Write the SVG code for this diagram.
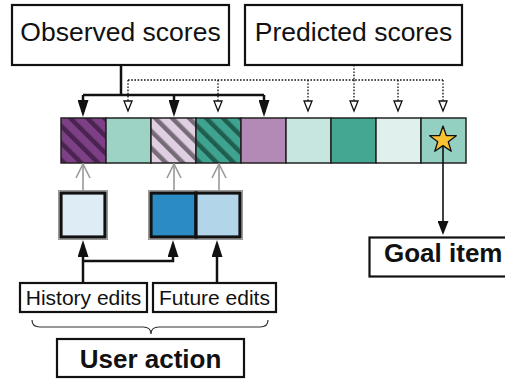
<svg xmlns="http://www.w3.org/2000/svg" width="505" height="379" viewBox="0 0 505 379">
<style>
.box{fill:#fff;stroke:#111;stroke-width:2.2}
.lbl{font-family:"Liberation Sans",Arial,sans-serif;fill:#111}
.big{font-size:26.5px}
.mid{font-size:21px}
.bold{font-size:26px;font-weight:bold}
.cell{stroke:#222;stroke-width:1.5}
.obs{fill:none;stroke:#111;stroke-width:2.5}
.pred{fill:none;stroke:#111;stroke-width:1.3;stroke-dasharray:1.6,1.6}
.gray{fill:none;stroke:#999;stroke-width:1.6}
.act{fill:none;stroke:#111;stroke-width:2.5}
.ubox{stroke:#111;stroke-width:3.2}
.uout{fill:none;stroke:#999;stroke-width:1}
</style>
<defs>
<marker id="af" markerUnits="userSpaceOnUse" markerWidth="18" markerHeight="11" refX="12" refY="5.5" orient="auto" viewBox="0 0 18 11"><path d="M0,0 L17,5.5 L0,11 z" fill="#111"/></marker>
<marker id="ab" markerUnits="userSpaceOnUse" markerWidth="15" markerHeight="11" refX="9" refY="5.5" orient="auto" viewBox="0 0 15 11"><path d="M0,0 L14,5.5 L0,11 z" fill="#111"/></marker>
<marker id="ah" markerUnits="userSpaceOnUse" markerWidth="13" markerHeight="10" refX="11" refY="5" orient="auto" viewBox="0 0 13 10"><path d="M1,1 L11,5 L1,9 z" fill="#fff" stroke="#111" stroke-width="1.3"/></marker>
<marker id="ag" markerUnits="userSpaceOnUse" markerWidth="16" markerHeight="18" refX="15" refY="9" orient="auto" viewBox="0 0 16 18"><path d="M1,2 L15,9 L1,16" fill="none" stroke="#999" stroke-width="1.6"/></marker>
<pattern id="p1" patternUnits="userSpaceOnUse" width="12" height="12" patternTransform="rotate(-45)"><rect width="12" height="12" fill="#7d3f85"/><rect width="4.5" height="12" fill="#4b2350"/></pattern>
<pattern id="p3" patternUnits="userSpaceOnUse" width="12" height="12" patternTransform="rotate(-45)"><rect width="12" height="12" fill="#e0cfe3"/><rect width="4.5" height="12" fill="#766c78"/></pattern>
<pattern id="p4" patternUnits="userSpaceOnUse" width="12" height="12" patternTransform="rotate(-45)"><rect width="12" height="12" fill="#3fa48f"/><rect width="4.5" height="12" fill="#1f5e4f"/></pattern>
</defs>

<g id="observed"><rect class="box" x="12" y="5" width="217" height="60"/><text class="lbl big" x="120.5" y="41" text-anchor="middle">Observed scores</text></g>
<g id="predicted"><rect class="box" x="245" y="5" width="217" height="60"/><text class="lbl big" x="353.5" y="41" text-anchor="middle">Predicted scores</text></g>

<g id="cells">
<rect class="cell" x="61" y="118" width="45" height="45" fill="url(#p1)"/>
<rect class="cell" x="106" y="118" width="45" height="45" fill="#9dd3c5"/>
<rect class="cell" x="151" y="118" width="45" height="45" fill="url(#p3)"/>
<rect class="cell" x="196" y="118" width="45" height="45" fill="url(#p4)"/>
<rect class="cell" x="241" y="118" width="45" height="45" fill="#b28ab5"/>
<rect class="cell" x="286" y="118" width="45" height="45" fill="#c6e6df"/>
<rect class="cell" x="331" y="118" width="45" height="45" fill="#43a792"/>
<rect class="cell" x="376" y="118" width="45" height="45" fill="#e0f0ec"/>
<rect class="cell" x="421" y="118" width="45" height="45" fill="#94d0c2"/>
<polygon points="443,126 446.3,135.5 456.3,135.7 448.3,141.7 451.2,151.3 443,145.6 434.8,151.3 437.7,141.7 429.7,135.7 439.7,135.5" fill="#f9c232" stroke="#111" stroke-width="1.3" stroke-linejoin="round"/>
</g>

<g id="user-items">
<rect class="uout" x="58.5" y="190.5" width="49" height="49"/>
<rect class="ubox" x="61" y="193" width="44" height="44" fill="#deedf5"/>
<rect class="uout" x="148.5" y="190.5" width="94" height="49"/>
<rect class="ubox" x="151" y="193" width="45" height="44" fill="#2b8bc4"/>
<rect class="ubox" x="196" y="193" width="44" height="44" fill="#b3d5ea"/>
</g>

<g id="history"><rect class="box" x="20" y="283" width="127" height="29" stroke-width="2"/><text class="lbl mid" x="83.5" y="305" text-anchor="middle">History edits</text></g>
<g id="future"><rect class="box" x="153" y="283" width="123" height="29" stroke-width="2"/><text class="lbl mid" x="214.5" y="305" text-anchor="middle">Future edits</text></g>
<g id="user-action"><rect class="box" x="57" y="339" width="187" height="38" stroke-width="2.5"/><text class="lbl bold" x="150.5" y="368" text-anchor="middle">User action</text></g>
<g id="goal"><rect class="box" x="369.5" y="237.5" width="140" height="39" stroke-width="2.5"/><text class="lbl bold" x="384" y="262">Goal item</text></g>

<g id="connectors">
<path class="obs" d="M121,65 V95 M83,95 H264"/>
<path class="obs" d="M83,95 V112" marker-end="url(#af)"/>
<path class="obs" d="M174,95 V112" marker-end="url(#af)"/>
<path class="obs" d="M264,95 V112" marker-end="url(#af)"/>
<path class="pred" d="M354,65 V80 M128,80 H443"/>
<path class="pred" d="M128,80 V111" marker-end="url(#ah)"/>
<path class="pred" d="M218,80 V111" marker-end="url(#ah)"/>
<path class="pred" d="M308,80 V111" marker-end="url(#ah)"/>
<path class="pred" d="M354,80 V111" marker-end="url(#ah)"/>
<path class="pred" d="M398,80 V111" marker-end="url(#ah)"/>
<path class="pred" d="M443,80 V111" marker-end="url(#ah)"/>
<path class="gray" d="M83,191 V164" marker-end="url(#ag)"/>
<path class="gray" d="M174,191 V164" marker-end="url(#ag)"/>
<path class="gray" d="M219,191 V164" marker-end="url(#ag)"/>
<path class="act" d="M83,283 V245" marker-end="url(#af)"/>
<path class="act" d="M83,261 H173 V245" marker-end="url(#af)"/>
<path class="act" d="M217,283 V245" marker-end="url(#af)"/>
<path fill="none" stroke="#111" stroke-width="1.6" d="M443,146 V230" marker-end="url(#ab)"/>
<path fill="none" stroke="#333" stroke-width="1.2" d="M32,320 Q32,327 40,327 L143,327 Q151,327 151,334 Q151,327 159,327 L260,327 Q268,327 268,320"/>
</g>
</svg>
